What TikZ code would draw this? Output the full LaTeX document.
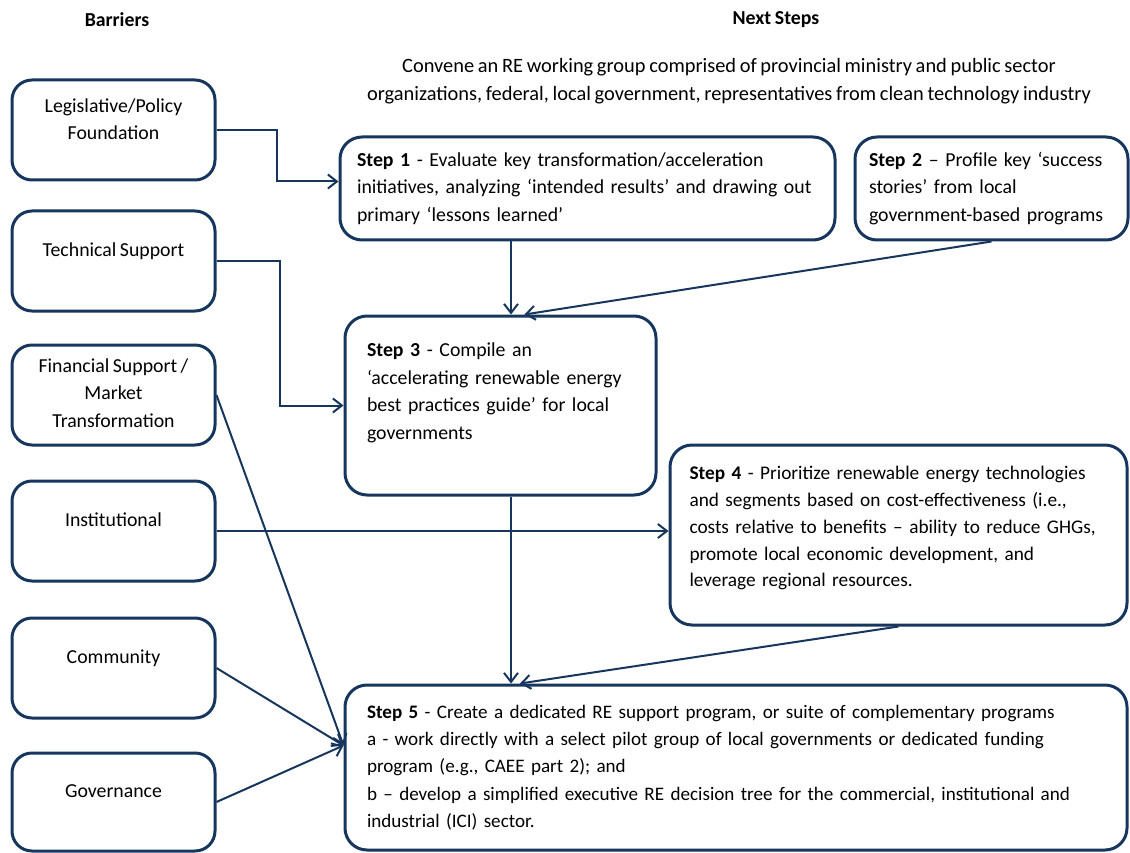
\documentclass[tikz,border=0pt]{standalone}
\usepackage{fontspec}
\setmainfont{Carlito}[WordSpace=0.8]
\usetikzlibrary{arrows.meta}
\definecolor{FrameClr}{RGB}{23,54,93}

\begin{document}
\begin{tikzpicture}[x=1pt,y=-1pt,
  font=\fontsize{19.8}{27.5}\selectfont,
  barrier/.style={draw=FrameClr,line width=3pt,rounded corners=20pt,
    minimum width=203pt,minimum height=100pt,align=center,text depth=22pt},
  stepbox/.style={draw=FrameClr,line width=3pt,rounded corners=22pt,
    align=left,inner ysep=0pt},
  link/.style={draw=FrameClr,line width=2pt,
    -{Straight Barb[length=9pt,width=14pt,line width=2pt]}}]
\useasboundingbox (0,0) rectangle (1130,853);

\node[font=\fontsize{19.8}{27.5}\selectfont\bfseries] (barhead) at (117,20) {Barriers};
\node[font=\fontsize{19.8}{27.5}\selectfont\bfseries] (stephead) at (776,20) {Next Steps};
\node[align=center,font=\fontsize{20.4}{27.5}\selectfont] (convene) at (729,81) {Convene an RE working group comprised of provincial ministry and public sector\\organizations, federal, local government, representatives from clean technology industry};

\node[barrier] (legis) at (113.5,130) {Legislative/Policy\\Foundation};
\node[barrier] (tech) at (113.5,261) {Technical Support};
\node[barrier,text depth=4pt] (fin) at (113.5,395) {Financial Support /\\Market\\Transformation};
\node[barrier] (inst) at (113.5,531) {Institutional};
\node[barrier] (comm) at (113.5,668) {Community};
\node[barrier,minimum height=98pt] (gov) at (113.5,802) {Governance};

\node[stepbox,text width=461pt,inner xsep=17pt,minimum height=103pt] (step1) at (587.5,188.5)
  {\textbf{Step 1} - Evaluate key transformation/acceleration\\initiatives, analyzing ‘intended results’ and drawing out\\primary ‘lessons learned’};
\node[stepbox,text width=245pt,inner xsep=14pt,minimum height=103pt] (step2) at (991.5,188.5)
  {\textbf{Step 2} – Profile key ‘success\\stories’ from local\\government-based programs};
\node[stepbox,text width=267pt,inner xsep=22pt,minimum height=179pt] (step3) at (500.5,405.5)
  {\textbf{Step 3} - Compile an\\‘accelerating renewable energy\\best practices guide’ for local\\governments\rule[-29pt]{0pt}{1pt}};
\node[stepbox,font=\fontsize{19.3}{26.8}\selectfont,text width=418pt,inner xsep=19.5pt,minimum height=180pt] (step4) at (898.5,535)
  {\textbf{Step 4} - Prioritize renewable energy technologies\\and segments based on cost-effectiveness (i.e.,\\costs relative to benefits – ability to reduce GHGs,\\promote local economic development, and\\leverage regional resources.\rule[-17pt]{0pt}{1pt}};
\node[stepbox,font=\fontsize{19.1}{27.3}\selectfont,text width=738pt,inner xsep=22pt,minimum height=165pt] (step5) at (736,767.5)
  {\textbf{Step 5} - Create a dedicated RE support program, or suite of complementary programs\\a - work directly with a select pilot group of local governments or dedicated funding\\program (e.g., CAEE part 2); and\\b – develop a simplified executive RE decision tree for the commercial, institutional and\\industrial (ICI) sector.};

\coordinate (spine) at (511,300);
\coordinate (s5in) at ([yshift=22pt]step5.west);

\draw[link] (legis.east) -- ++(60,0) |- ([yshift=7pt]step1.west);
\draw[link] (tech.east) -- ++(63,0) |- (step3.west);
\draw[link] (step1.south -| spine) -- (step3.north -| spine);
\draw[link] (step2.south) -- ([xshift=24pt]step3.north);
\draw[link] (inst.east) -- (inst.east -| step4.west);
\draw[link] (step3.south -| spine) -- (step5.north -| spine);
\draw[link] (step4.south) -- ([xshift=9pt]step5.north -| spine);
\foreach \b in {fin,comm,gov}
  \draw[link] (\b.east) -- (s5in);

\end{tikzpicture}
\end{document}
